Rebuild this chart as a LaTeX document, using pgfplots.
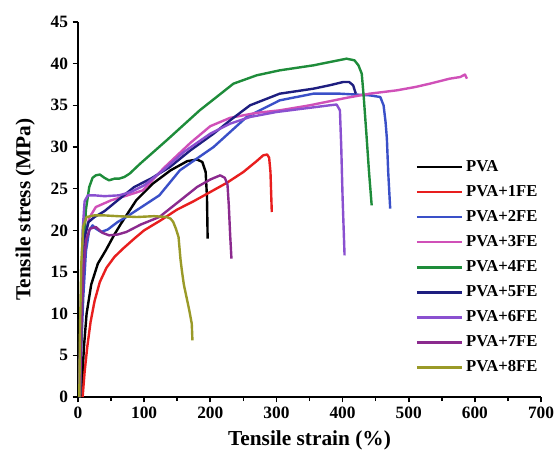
\documentclass[border=0pt]{standalone}
\usepackage{pgfplots}
\pgfplotsset{compat=1.18}
\usepackage{fontspec}
\setmainfont{Liberation Serif}

\definecolor{cPVA}{RGB}{0,0,0}
\definecolor{cOne}{RGB}{232,30,30}
\definecolor{cTwo}{RGB}{58,80,200}
\definecolor{cThree}{RGB}{208,80,184}
\definecolor{cFour}{RGB}{30,140,58}
\definecolor{cFive}{RGB}{30,30,128}
\definecolor{cSix}{RGB}{138,80,208}
\definecolor{cSeven}{RGB}{139,42,142}
\definecolor{cEight}{RGB}{154,154,40}

\begin{document}
\begin{tikzpicture}
\begin{axis}[
    name=ax,
    scale only axis,
    width=347.25pt, height=281.25pt,
    xmin=0, xmax=700, ymin=0, ymax=45,
    xtick={0,100,...,700}, ytick={0,5,...,45},
    minor x tick num=1,
    axis x line=bottom, axis y line=left,
    axis line style={line width=1.4pt, -},
    tick align=outside,
    major tick length=4pt, minor tick length=3pt,
    every tick/.style={line width=1.2pt, black},
    tick label style={font=\fontsize{13}{15}\selectfont\bfseries},
    /pgf/number format/assume math mode=true,
    xlabel={Tensile strain (\%)},
    ylabel={Tensile stress (MPa)},
    label style={font=\fontsize{16}{18}\selectfont\bfseries},
    xlabel style={at={(axis description cs:0.5,-0.115)}, anchor=center},
    ylabel style={at={(axis description cs:-0.114,0.5)}, anchor=center},
    every axis plot/.append style={line width=1.8pt, line join=round},
    legend cell align=left,
    legend style={at={(axis description cs:0.72,0.645)}, anchor=north west,
        draw=none, fill=none, row sep=5pt,
        font=\fontsize{12.5}{14}\selectfont\bfseries},
    legend image code/.code={\draw[#1] (0cm,0cm) -- (1.2cm,0cm);},
]
\addplot[color=cPVA] coordinates {
(5,0)(7,3)(9,6)(13,10)(20,13.5)(30,16)(42,17.6)(55,19.5)(65,20.8)(88,23.6)
(113,25.6)(140,27.2)(165,28.3)(180,28.5)(188,28.2)(193,27)(195,24)(196,19)
};
\addplot[color=cOne] coordinates {
(7,0)(10,3)(14,6)(19,9)(25,11.5)(33,13.8)(43,15.5)(55,16.8)(68,17.8)(85,19)
(100,20)(125,21.2)(150,22.5)(175,23.5)(200,24.6)(225,25.7)(250,27)(270,28.3)
(280,29)(286,29.1)(289,28.7)(291,27)(292,24.5)(293,22.2)
};
\addplot[color=cTwo] coordinates {
(3,0)(5,6)(8,12)(12,17.5)(17,20)(22,20.6)(27,20.2)(35,19.8)(45,20.1)(60,21)
(73,21.6)(100,23)(123,24.2)(154,27.2)(205,30)(255,33.6)(305,35.6)(356,36.4)
(396,36.4)(441,36.2)(457,36.0)(462,35)(465,33)(467,31)(469,27)(472,22.6)
};
\addplot[color=cThree] coordinates {
(2,0)(4,8)(7,15)(11,19.5)(17,21.5)(27,22.8)(50,23.6)(75,24.2)(98,24.8)
(130,27.5)(170,30.5)(200,32.5)(230,33.5)(270,34.1)(305,34.4)(350,35)
(406,35.9)(441,36.4)(482,36.8)(510,37.2)(532,37.6)(562,38.2)(578,38.4)
(585,38.7)(588,38.2)
};
\addplot[color=cFour] coordinates {
(3,0)(5,8)(8,17)(12,22.5)(17,25.2)(22,26.3)(27,26.6)(33,26.7)(40,26.3)
(47,26.0)(55,26.2)(62,26.2)(70,26.4)(78,26.8)(94,28)(134,30.8)(184,34.4)
(235,37.6)(270,38.6)(305,39.2)(356,39.8)(406,40.6)(418,40.4)(424,39.8)
(429,38.8)(432,36)(436,31.6)(440,27)(444,23)
};
\addplot[color=cFive] coordinates {
(2,0)(4,8)(7,15)(11,19.5)(16,21)(25,21.6)(40,22.3)(60,23.6)(85,25.2)
(110,26.2)(139,27.6)(170,29.6)(205,31.6)(230,33.2)(260,35.0)(305,36.4)
(356,37.0)(380,37.4)(401,37.8)(410,37.8)(416,37.4)(420,36.4)
};
\addplot[color=cSix] coordinates {
(2,0)(4,10)(7,20)(10,23.5)(15,24.2)(25,24.2)(40,24.1)(62,24.2)(80,24.6)
(100,25.4)(130,27.3)(160,29.4)(200,31.6)(230,32.8)(260,33.6)(300,34.2)
(350,34.7)(380,35.0)(391,35.1)(396,34.4)(398,30)(400,24)(403,17)
};
\addplot[color=cSeven] coordinates {
(3,0)(5,8)(8,15)(12,18.8)(18,20.2)(27,20.4)(37,19.7)(47,19.4)(60,19.5)
(73,19.8)(95,20.7)(123,21.6)(150,23.3)(180,25.2)(200,26.1)(215,26.6)
(222,26.3)(226,25.5)(228,23)(230,19.5)(232,16.6)
};
\addplot[color=cEight] coordinates {
(2,0)(3,8)(5,16)(8,20.5)(13,21.6)(25,21.8)(38,21.8)(60,21.7)(89,21.6)
(115,21.7)(134,21.6)(140,21.4)(144,21.0)(148,20.2)(152,19.2)(155,16.5)
(157,15.2)(160,13.5)(164,12)(168,10.5)(172,8.8)(173,6.8)
};
\legend{PVA, PVA+1FE, PVA+2FE, PVA+3FE, PVA+4FE, PVA+5FE, PVA+6FE, PVA+7FE, PVA+8FE}
\end{axis}
\pgfresetboundingbox
\path ([shift={(-58.5pt,-48.75pt)}]ax.south west) rectangle ([shift={(11.25pt,16.5pt)}]ax.north east);
\end{tikzpicture}
\end{document}
